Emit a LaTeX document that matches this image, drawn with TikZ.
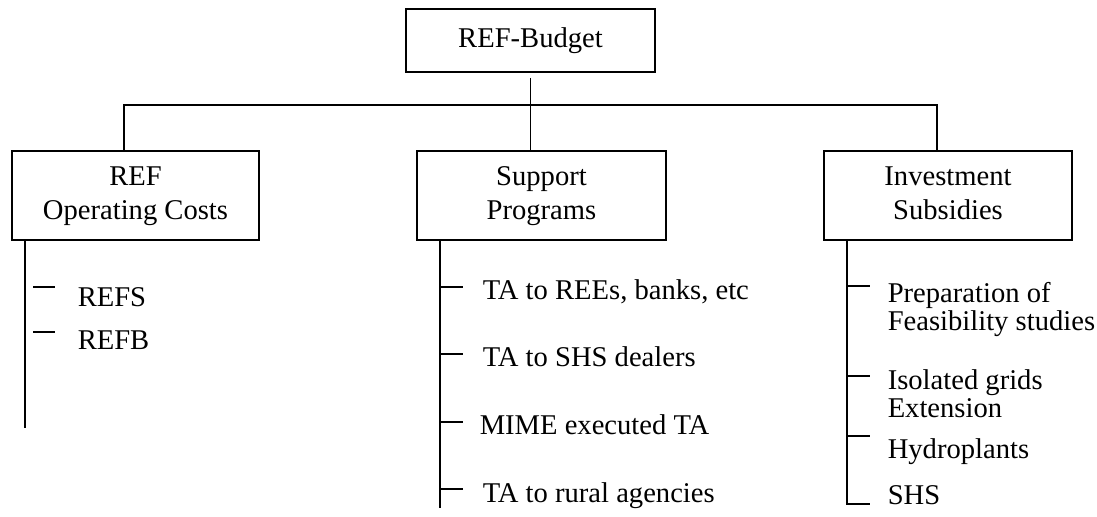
\documentclass[tikz,border=0pt]{standalone}
\usepackage{fontspec}
\setmainfont{Liberation Serif}
\begin{document}
\begin{tikzpicture}[x=0.5pt,y=-0.5pt, line width=0.75pt,
  box/.style={draw, line width=0.9pt, inner sep=0pt, align=center, font=\fontsize{14.3}{17}\selectfont},
  item/.style={anchor=base west, inner sep=0pt, font=\fontsize{14.3}{17}\selectfont}]
\useasboundingbox (0,0) rectangle (1097,516);
\node[box, minimum width=124.5pt, minimum height=31.5pt] (T) at (530.5,40.5) {\strut REF-Budget};
\node[box, minimum width=123.5pt, minimum height=44.5pt] (L) at (135.5,195.5) {\strut REF\\\strut Operating Costs};
\node[box, minimum width=124.5pt, minimum height=44.5pt] (M) at (541.5,195.5) {\strut Support\\\strut Programs};
\node[box, minimum width=124pt, minimum height=44.5pt] (R) at (948,195.5) {\strut Investment\\\strut Subsidies};
% connectors
\coordinate (bus) at (530.5,105);
\draw[shorten <=2.5pt] (T.south) -- (T.south |- M.north);
\draw ([xshift=-5.75pt]L.north) |- (bus) -| ([xshift=-5.5pt]R.north);
% spines
\coordinate (Lend) at (25,428);
\coordinate (Mend) at (440,508);
\coordinate (Rend) at (847,504);
\draw (L.south -| Lend) -- (Lend);
\draw (M.south -| Mend) -- (Mend);
\draw (R.south -| Rend) -- (Rend) -- (870,504);
% ticks
\draw (33,287) -- (55,287);
\draw (33,332) -- (55,332);
\draw (440,287) -- (463,287);
\draw (440,354) -- (463,354);
\draw (440,422) -- (463,422);
\draw (440,489) -- (463,489);
\draw (847,286) -- (870,286);
\draw (847,376) -- (870,376);
\draw (847,436) -- (870,436);
% items
\node[item] (refs) at (77,306) {REFS};
\node[item] (refb) at (77,349) {REFB};
\node[item] (m1) at (482,299) {TA to REEs, banks, etc};
\node[item] (m2) at (482,366) {TA to SHS dealers};
\node[item] (m3) at (479,434) {MIME executed TA};
\node[item] (m4) at (482,502) {TA to rural agencies};
\node[item] (r1) at (887,302) {\begin{tabular}[t]{@{}l@{}}Preparation of\\[-3pt]Feasibility studies\end{tabular}};
\node[item] (r2) at (887,389) {\begin{tabular}[t]{@{}l@{}}Isolated grids\\[-3pt]Extension\end{tabular}};
\node[item] (r3) at (887,458) {Hydroplants};
\node[item] (r4) at (887,504) {SHS};
\end{tikzpicture}
\end{document}
